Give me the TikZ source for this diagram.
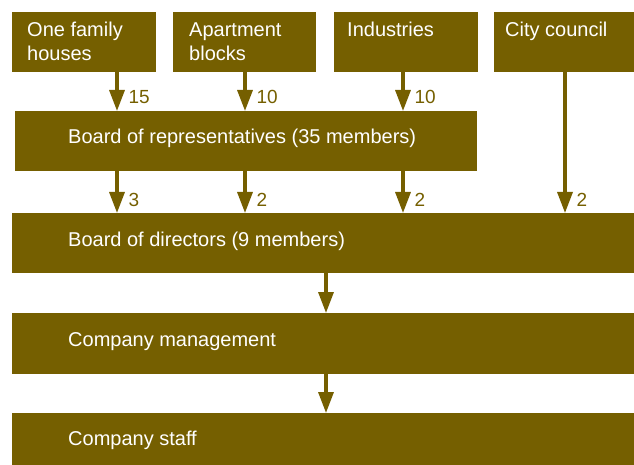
\documentclass[tikz,border=0pt]{standalone}
\usepackage{fontspec}
\setmainfont{Liberation Sans}
\usetikzlibrary{arrows.meta}
\definecolor{boxolive}{RGB}{117,95,0}
\begin{document}
\begin{tikzpicture}[x=1pt,y=-1pt,
  box/.style={fill=boxolive, inner sep=0pt, outer sep=0pt, anchor=north west},
  txt/.style={text=white, font=\fontsize{20}{24}\selectfont, anchor=base west,
    inner sep=0pt, align=left},
  num/.style={text=boxolive, font=\fontsize{19}{22}\selectfont, anchor=base west,
    inner sep=0pt, xshift=10pt, yshift=7pt},
  flow/.style={draw=boxolive, line width=3.3pt, -{Triangle[length=21pt,width=15pt]}}]
\useasboundingbox (0,0) rectangle (634,465);

% source groups
\node[box, minimum width=144pt, minimum height=60pt] (b1) at (12,12) {};
\node[box, minimum width=143pt, minimum height=60pt] (b2) at (173,12) {};
\node[box, minimum width=144pt, minimum height=60pt] (b3) at (334,12) {};
\node[box, minimum width=140pt, minimum height=60pt] (b4) at (494,12) {};

% governing and operating levels
\node[box, minimum width=462pt, minimum height=60pt] (reps) at (15,111) {};
\node[box, minimum width=622pt, minimum height=60pt] (dirs) at (12,213) {};
\node[box, minimum width=622pt, minimum height=61pt] (mgmt) at (12,313) {};
\node[box, minimum width=622pt, minimum height=52pt] (staff) at (12,413) {};

% box texts (base anchor of a two-line text is its last line)
\node[txt] (t1) at (27,61) {One family\\houses};
\node[txt] (t2) at (189,61) {Apartment\\blocks};
\node[txt] (t3) at (347,37) {Industries};
\node[txt] (t4) at (505,37) {City council};
\node[txt] (treps) at (68,144) {Board of representatives (35 members)};
\node[txt] (tdirs) at (68,246) {Board of directors (9 members)};
\node[txt] (tmgmt) at (68,346) {Company management};
\node[txt] (tstaff) at (68,445) {Company staff};

% seats flowing into the boards
\draw[flow] ([xshift=105pt]b1.south west) -- ([xshift=105pt]b1.south west |- reps.north)
  node[num] (n1) {15};
\draw[flow] ([xshift=72pt]b2.south west) -- ([xshift=72pt]b2.south west |- reps.north)
  node[num] (n2) {10};
\draw[flow] ([xshift=69pt]b3.south west) -- ([xshift=69pt]b3.south west |- reps.north)
  node[num] (n3) {10};
\draw[flow] ([xshift=71pt]b4.south west) -- ([xshift=71pt]b4.south west |- dirs.north)
  node[num] (n4) {2};

\draw[flow] ([xshift=102pt]reps.south west) -- ([xshift=102pt]reps.south west |- dirs.north)
  node[num] (n5) {3};
\draw[flow] ([xshift=230pt]reps.south west) -- ([xshift=230pt]reps.south west |- dirs.north)
  node[num] (n6) {2};
\draw[flow] ([xshift=388pt]reps.south west) -- ([xshift=388pt]reps.south west |- dirs.north)
  node[num] (n7) {2};

% chain of command
\draw[flow] ([xshift=314pt]dirs.south west) -- ([xshift=314pt]dirs.south west |- mgmt.north);
\draw[flow] ([xshift=314pt]mgmt.south west) -- ([xshift=314pt]mgmt.south west |- staff.north);
\end{tikzpicture}
\end{document}
